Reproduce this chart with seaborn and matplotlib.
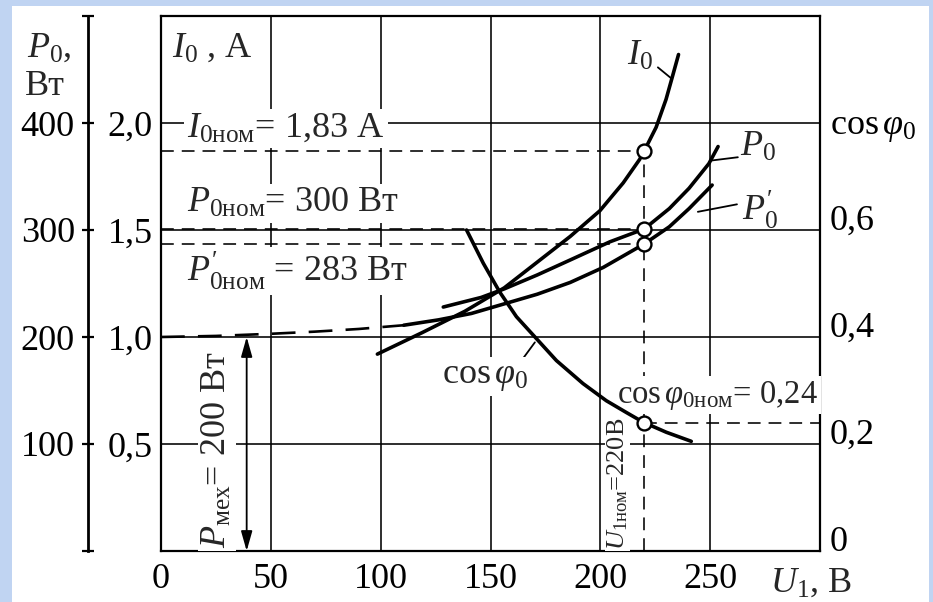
import matplotlib
matplotlib.use("Agg")
import matplotlib.pyplot as plt
import seaborn as sns
from matplotlib.patches import Rectangle

# ---------------- data ----------------
U_I0 = [98.5, 118.8, 138.3, 156.3, 171.3, 186.3, 199.8, 210.4, 217.9, 220, 225.4, 229.9, 232.9, 235.6]
I0_A = [0.92, 1.02, 1.12, 1.23, 1.35, 1.47, 1.59, 1.72, 1.83, 1.87, 1.98, 2.11, 2.22, 2.32]

U_P0 = [128.5, 145.8, 156.3, 171.3, 186.3, 204.4, 220, 231.4, 240.4, 249.4, 253.6]
P0_W = [228, 237, 245, 258, 272, 289, 301, 320, 339, 362, 378]

U_P0p_dash = [0, 25, 50, 70, 90, 110.5]
P0p_dash_W = [200, 201, 203, 205, 207.5, 211]
U_P0p = [110.5, 126.3, 141.3, 156.3, 171.3, 186.3, 201.3, 220, 231.4, 240.4, 250.9]
P0p_W = [211, 216, 222, 231, 240, 251, 265, 287, 303, 320, 342]

U_cos = [139.1, 146.7, 154.2, 161.8, 170.9, 180.0, 192.1, 202.7, 211.8, 219.4, 230.0, 241.4]
cos_phi0 = [0.600, 0.538, 0.484, 0.438, 0.397, 0.356, 0.313, 0.281, 0.259, 0.241, 0.222, 0.205]

U_nom = 220
I0_nom = 1.87
P0_nom = 301
P0p_nom = 287
cos_nom = 0.24
P_mech = 200
U_mech_arrow = 39

x_ticks = [0, 50, 100, 150, 200, 250]
x_ticklabels = ["0", "50", "100", "150", "200", "250"]
I_ticks = [0.5, 1.0, 1.5, 2.0]
I_ticklabels = ["0,5", "1,0", "1,5", "2,0"]
P_ticks = [0, 100, 200, 300, 400, 500]
P_ticklabels = ["", "100", "200", "300", "400", ""]
cos_ticks = [0, 0.2, 0.4, 0.6, 0.8]
cos_ticklabels = ["0", "0,2", "0,4", "0,6", r"$\cos\varphi_0$"]

# ---------------- style ----------------
sns.set_theme(style="white")
plt.rcParams["font.family"] = ["Liberation Serif", "DejaVu Serif"]
plt.rcParams["mathtext.fontset"] = "custom"
plt.rcParams["mathtext.rm"] = "Liberation Serif"
plt.rcParams["mathtext.it"] = "Liberation Serif:italic"
plt.rcParams["mathtext.bf"] = "Liberation Serif:bold"
plt.rcParams["mathtext.fallback"] = "stix"
FS = 26
K = "black"

fig = plt.figure(figsize=(9.33, 6.02), dpi=100)
fig.patch.set_facecolor("#c0d4f2")
fig.add_artist(Rectangle((12 / 933, 0), (929 - 12) / 933, (602 - 6) / 602,
                         transform=fig.transFigure, facecolor="white",
                         edgecolor="none", zorder=0))

L, R, B, T = 161 / 933, 820 / 933, (602 - 551) / 602, (602 - 16) / 602
ax = fig.add_axes([L, B, R - L, T - B])
ax.set_facecolor("none")
axP = ax.twinx()
axC = ax.twinx()

ax.set_xlim(0, 300)
ax.set_ylim(0, 2.5)
axP.set_ylim(0, 500)
axC.set_ylim(0, 1.0)

# frame and grid
for s in ax.spines.values():
    s.set_visible(True)
    s.set_color(K)
    s.set_linewidth(1.6)
ax.set_xticks(x_ticks)
ax.set_xticklabels(x_ticklabels, fontsize=FS)
ax.set_yticks(I_ticks)
ax.set_yticklabels(I_ticklabels, fontsize=FS)
ax.tick_params(axis="x", length=0, pad=9, colors=K)
ax.tick_params(axis="y", length=0, pad=6, colors=K)
ax.grid(True, color=K, lw=1.15)
ax.set_axisbelow(True)

# P axis on the far left
for name, s in axP.spines.items():
    s.set_visible(name == "left")
axP.spines["left"].set_position(("axes", -(161 - 88) / 659))
axP.spines["left"].set_linewidth(2.0)
axP.spines["left"].set_color(K)
axP.yaxis.set_ticks_position("left")
axP.set_yticks(P_ticks)
axP.set_yticklabels(P_ticklabels, fontsize=FS)
axP.tick_params(axis="y", direction="inout", length=9, width=1.6, pad=5, colors=K)

# cos axis labels on the right (baseline on the level line)
for s in axC.spines.values():
    s.set_visible(False)
axC.set_yticks(cos_ticks)
axC.set_yticklabels(cos_ticklabels, fontsize=FS)
axC.tick_params(axis="y", length=0, pad=7, colors=K)
cos_lbls = axC.get_yticklabels()
for lbl in cos_lbls[:-1]:
    lbl.set_verticalalignment("baseline")
cos_lbls[-1].set_verticalalignment("center_baseline")

LW = 2.6
# curves
sns.lineplot(x=U_I0, y=I0_A, ax=ax, color=K, lw=LW, zorder=5)
sns.lineplot(x=U_P0, y=P0_W, ax=axP, color=K, lw=LW, zorder=5)
sns.lineplot(x=U_P0p, y=P0p_W, ax=axP, color=K, lw=LW, zorder=5)
sns.lineplot(x=U_P0p_dash, y=P0p_dash_W, ax=axP, color=K, lw=1.9,
             linestyle=(0, (9, 5)), zorder=5)
sns.lineplot(x=U_cos, y=cos_phi0, ax=axC, color=K, lw=LW, zorder=5)

# nominal reference lines
DASH = (0, (8, 5))
ax.plot([0, U_nom], [I0_nom, I0_nom], color=K, lw=1.15, ls=DASH, zorder=3)
ax.plot([U_nom, U_nom], [0, I0_nom], color=K, lw=1.15, ls=DASH, zorder=3)
axP.plot([0, U_nom], [P0_nom, P0_nom], color=K, lw=1.15, ls=DASH, zorder=3)
axP.plot([0, U_nom], [P0p_nom, P0p_nom], color=K, lw=1.15, ls=DASH, zorder=3)
axC.plot([U_nom, 300], [cos_nom, cos_nom], color=K, lw=1.15, ls=DASH, zorder=3)

# nominal points
mk = dict(marker="o", s=100, facecolor="white", edgecolor=K, linewidth=1.7, zorder=8)
sns.scatterplot(x=[U_nom], y=[I0_nom], ax=ax, **mk)
sns.scatterplot(x=[U_nom, U_nom], y=[P0_nom, P0p_nom], ax=axP, **mk)
sns.scatterplot(x=[U_nom], y=[cos_nom], ax=axC, **mk)

# mechanical losses arrow
axP.annotate("", xy=(U_mech_arrow, P_mech), xytext=(U_mech_arrow, 0),
             arrowprops=dict(arrowstyle="<|-|>,head_length=0.6,head_width=0.17",
                             mutation_scale=20, lw=1.3, color=K,
                             shrinkA=0, shrinkB=0), zorder=6)

# ---------------- texts ----------------
box = dict(boxstyle="square,pad=0.08", facecolor="white", edgecolor="none")
tI, tP = ax.transData, axP.transData
axC.text(5, 2.31, r"$I_0$ , А", transform=tI, fontsize=FS, ha="left", va="baseline",
         bbox=box, zorder=10)
axC.text(12, 1.934, r"$I_{0\mathrm{ном}}$= 1,83 А", transform=tI, fontsize=FS,
         ha="left", va="baseline", bbox=box, zorder=10)
axC.text(12, 317, r"$P_{0\mathrm{ном}}$= 300 Вт", transform=tP, fontsize=FS,
         ha="left", va="baseline", bbox=box, zorder=10)
axC.text(12, 252, r"$P_{0\mathrm{ном}}^{\prime}$ = 283 Вт", transform=tP, fontsize=FS,
         ha="left", va="baseline", bbox=box, zorder=10)
axC.text(25.5, 0.473, r"$P_{\mathrm{мех}}$= 200 Вт", transform=tI, fontsize=FS,
         rotation=90, ha="center", va="center", bbox=box, zorder=10)
axC.text(207.8, 0.312, r"$U_{1\mathrm{ном}}$=220В", transform=tI, fontsize=19,
         rotation=90, ha="center", va="center",
         bbox=dict(boxstyle="square,pad=0.02", facecolor="white", edgecolor="none"),
         zorder=4)
axC.text(207.6, 0.277, r"$\cos\varphi_{0\mathrm{ном}}$= 0,24", fontsize=FS - 2.5,
         ha="left", va="baseline", bbox=box, zorder=4)
axC.text(147.5, 0.326, r"$\cos\varphi_0$", fontsize=FS, ha="center", va="center",
         bbox=box, zorder=10)

# curve labels with leaders
axC.text(218, 2.31, r"$I_0$", transform=tI, fontsize=FS, ha="center", va="center", zorder=10)
ax.annotate("", xy=(232.6, 2.206), xytext=(226.2, 2.26),
            arrowprops=dict(arrowstyle="-", lw=1.3, color=K, shrinkA=0, shrinkB=0))
axC.text(272, 377, r"$P_0$", transform=tP, fontsize=FS, ha="center", va="center", zorder=10)
axP.annotate("", xy=(250.8, 365), xytext=(262.6, 368),
             arrowprops=dict(arrowstyle="-", lw=1.3, color=K, shrinkA=0, shrinkB=0))
axC.text(272.6, 319, r"$P_0^{\prime}$", transform=tP, fontsize=FS, ha="center", va="center", zorder=10)
axP.annotate("", xy=(244.4, 317), xytext=(262.2, 324),
             arrowprops=dict(arrowstyle="-", lw=1.3, color=K, shrinkA=0, shrinkB=0))
axC.annotate("", xy=(170.2, 0.390), xytext=(163.4, 0.352),
             arrowprops=dict(arrowstyle="-", lw=1.3, color=K, shrinkA=0, shrinkB=0))

# axis titles
ax.text(296, -0.0766, r"$U_1$, В", transform=ax.get_xaxis_transform(), fontsize=FS,
        ha="center", va="baseline", clip_on=False)
fig.text(27 / 933, (602 - 57) / 602, r"$P_0$,", fontsize=FS, ha="left", va="baseline")
fig.text(25 / 933, (602 - 95) / 602, "Вт", fontsize=FS, ha="left", va="baseline")

fig.savefig("out.png", dpi=100, facecolor=fig.get_facecolor())
